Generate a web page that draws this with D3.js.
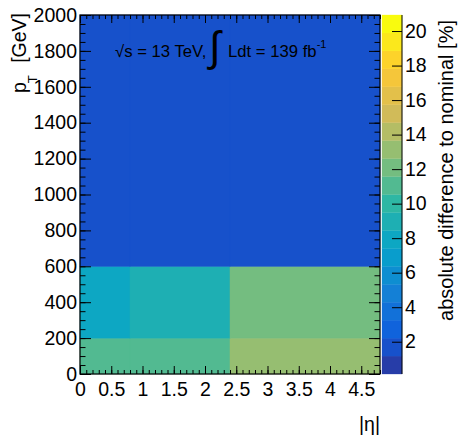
<!DOCTYPE html>
<html>
<head>
<meta charset="utf-8">
<script src="https://cdn.jsdelivr.net/npm/d3@7"></script>
<style>
  html, body { margin: 0; padding: 0; background: #fff; }
  svg { display: block; }
  text { font-family: "Liberation Sans", Arial, sans-serif; fill: #000; }
</style>
</head>
<body>
<svg id="chart" width="458" height="439"></svg>
<script>
// ---------------- data ----------------
const etaEdges = [0, 0.8, 2.4, 4.8];
const ptEdges = [0, 200, 600, 2000];
// rows: pT bins (low -> high), columns: |eta| bins
const row0 = [11.0, 11.0, 13.1];
const row1 = [7.9, 9.0, 12.1];
const row2 = [1.7, 1.7, 1.7];
const cellValues = [row0, row1, row2];

const xTickValues = [0, 0.5, 1, 1.5, 2, 2.5, 3, 3.5, 4, 4.5];
const xTickLabels = ["0", "0.5", "1", "1.5", "2", "2.5", "3", "3.5", "4", "4.5"];
const yTickValues = [0, 200, 400, 600, 800, 1000, 1200, 1400, 1600, 1800, 2000];
const yTickLabels = ["0", "200", "400", "600", "800", "1000", "1200", "1400", "1600", "1800", "2000"];
const zTickValues = [2, 4, 6, 8, 10, 12, 14, 16, 18, 20];
const zTickLabels = ["2", "4", "6", "8", "10", "12", "14", "16", "18", "20"];
const zMin = 0.13, zMax = 20.93, nContours = 20;

// ROOT kBird palette stops
const birdStops = [0.0, 0.125, 0.25, 0.375, 0.5, 0.625, 0.75, 0.875, 1.0];
const birdR = [0.2082, 0.0592, 0.0780, 0.0232, 0.1802, 0.5301, 0.8186, 0.9956, 0.9764];
const birdG = [0.1664, 0.3599, 0.5041, 0.6419, 0.7178, 0.7492, 0.7328, 0.7862, 0.9832];
const birdB = [0.5293, 0.8684, 0.8385, 0.7914, 0.6425, 0.4662, 0.3499, 0.1968, 0.0539];

// ---------------- layout ----------------
const L = 80, R = 380, T = 15, B = 374;
const cbL = 382, cbR = 402;
const FS = 19.5;

const svg = d3.select("#chart");
const x = d3.scaleLinear().domain([0, 4.8]).range([L, R]);
const y = d3.scaleLinear().domain([0, 2000]).range([B, T]);
const z = d3.scaleLinear().domain([zMin, zMax]).range([B, T]);

const palR = d3.scaleLinear().domain(birdStops).range(birdR);
const palG = d3.scaleLinear().domain(birdStops).range(birdG);
const palB = d3.scaleLinear().domain(birdStops).range(birdB);
function bandColor(k) {
  const idx = Math.floor((k + 0.99) * 255 / nContours);
  const f = Math.min(1, idx / 254);
  return d3.rgb(palR(f) * 255, palG(f) * 255, palB(f) * 255).formatHex();
}
function valueColor(v) {
  let k = Math.floor(0.01 + (v - zMin) * nContours / (zMax - zMin));
  k = Math.max(0, Math.min(nContours - 1, k));
  return bandColor(k);
}

// cells
const cells = [];
cellValues.forEach((row, j) => row.forEach((v, i) => {
  cells.push({x0: etaEdges[i], x1: etaEdges[i + 1], y0: ptEdges[j], y1: ptEdges[j + 1], v});
}));
svg.append("g").selectAll("rect").data(cells).join("rect")
  .attr("x", d => x(d.x0))
  .attr("y", d => y(d.y1))
  .attr("width", d => x(d.x1) - x(d.x0))
  .attr("height", d => y(d.y0) - y(d.y1))
  .attr("fill", d => valueColor(d.v))
  .attr("stroke", d => valueColor(d.v))
  .attr("stroke-width", 0.5);

// axes helpers
function styleAxis(g) {
  g.select(".domain").remove();
  g.selectAll("line").attr("stroke", "#000").attr("stroke-width", 1);
  g.selectAll("text").attr("font-size", FS).attr("font-family", '"Liberation Sans", Arial, sans-serif');
}
const xMinor = d3.range(0, 4.81, 0.1).map(v => +v.toFixed(2));
const yMinor = d3.range(0, 2001, 50);

// bottom axis
svg.append("g").attr("transform", `translate(0,${B})`)
  .call(d3.axisBottom(x).tickValues(xMinor).tickSize(-4).tickFormat("")).call(styleAxis);
svg.append("g").attr("transform", `translate(0,${B})`)
  .call(d3.axisBottom(x).tickValues(xTickValues).tickSize(-8).tickPadding(8)
    .tickFormat((d, i) => xTickLabels[i])).call(styleAxis);
// top axis ticks
svg.append("g").attr("transform", `translate(0,${T})`)
  .call(d3.axisTop(x).tickValues(xMinor).tickSize(-4).tickFormat("")).call(styleAxis);
svg.append("g").attr("transform", `translate(0,${T})`)
  .call(d3.axisTop(x).tickValues(xTickValues).tickSize(-8).tickFormat("")).call(styleAxis);
// left axis
svg.append("g").attr("transform", `translate(${L},0)`)
  .call(d3.axisLeft(y).tickValues(yMinor).tickSize(-5.5).tickFormat("")).call(styleAxis);
svg.append("g").attr("transform", `translate(${L},0)`)
  .call(d3.axisLeft(y).tickValues(yTickValues).tickSize(-11).tickPadding(3)
    .tickFormat((d, i) => yTickLabels[i])).call(styleAxis);
// right axis ticks
svg.append("g").attr("transform", `translate(${R},0)`)
  .call(d3.axisRight(y).tickValues(yMinor).tickSize(-5.5).tickFormat("")).call(styleAxis);
svg.append("g").attr("transform", `translate(${R},0)`)
  .call(d3.axisRight(y).tickValues(yTickValues).tickSize(-11).tickFormat("")).call(styleAxis);

// frame
svg.append("rect").attr("x", L).attr("y", T).attr("width", R - L).attr("height", B - T)
  .attr("fill", "none").attr("stroke", "#000").attr("stroke-width", 1.2);

// color bar
const bands = d3.range(nContours).map(k => ({k, lo: zMin + k * (zMax - zMin) / nContours, hi: zMin + (k + 1) * (zMax - zMin) / nContours}));
svg.append("g").selectAll("rect").data(bands).join("rect")
  .attr("x", cbL).attr("width", cbR - cbL)
  .attr("y", d => z(d.hi)).attr("height", d => z(d.lo) - z(d.hi))
  .attr("fill", d => bandColor(d.k)).attr("stroke", d => bandColor(d.k)).attr("stroke-width", 0.3);
const zAx = svg.append("g").attr("transform", `translate(${cbR},0)`)
  .call(d3.axisRight(z).tickValues(zTickValues).tickSize(-10).tickSizeOuter(0).tickPadding(3)
    .tickFormat((d, i) => zTickLabels[i]));
zAx.selectAll("line").attr("stroke", "#000");
zAx.selectAll("text").attr("font-size", FS);
zAx.select(".domain").remove();
svg.append("line").attr("x1", cbR).attr("x2", cbR).attr("y1", T).attr("y2", B)
  .attr("stroke", "#000").attr("stroke-width", 1);

// axis titles
svg.append("text").attr("x", R).attr("y", 431).attr("text-anchor", "end")
  .attr("font-size", FS).text("|η|");

const yt = svg.append("text").attr("transform", "translate(26,93) rotate(-90)")
  .attr("font-size", FS);
yt.append("tspan").text("p");
yt.append("tspan").attr("font-size", 13).attr("dx", -1).attr("dy", 11).text("T");
svg.append("text").attr("transform", "translate(26,13) rotate(-90)")
  .attr("text-anchor", "end").attr("font-size", FS).text("[GeV]");

svg.append("text").attr("transform", "translate(453,20) rotate(-90)")
  .attr("text-anchor", "end").attr("font-size", 20).text("absolute difference to nominal [%]");

// annotation
svg.append("text").attr("x", 115).attr("y", 57).attr("font-size", 16.7).text("√s = 13 TeV,");
svg.append("text").attr("x", 209).attr("y", 61).attr("font-size", 42)
  .attr("font-family", '"DejaVu Sans", sans-serif').text("∫");
const lum = svg.append("text").attr("x", 228).attr("y", 57).attr("font-size", 16.7);
lum.append("tspan").text("Ldt = 139 fb");
lum.append("tspan").attr("font-size", 11).attr("dy", -9).text("-1");
</script>
</body>
</html>
